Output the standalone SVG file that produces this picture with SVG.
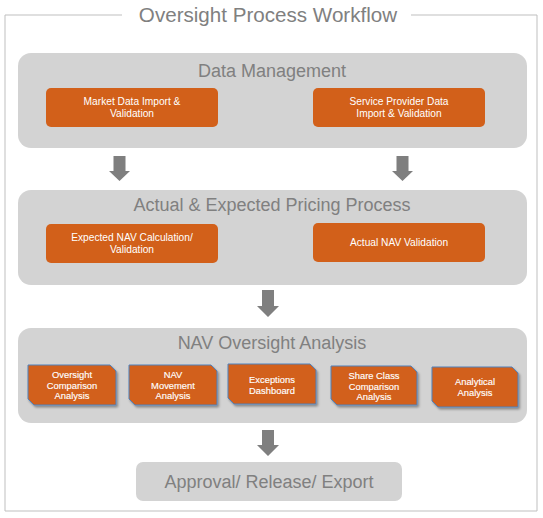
<svg xmlns="http://www.w3.org/2000/svg" width="543" height="518" viewBox="0 0 543 518">
<style>
.panel{fill:#d3d3d3}
.ptitle{font-family:"Liberation Sans",Arial,sans-serif;font-size:18px;fill:#808080;text-anchor:middle}
.obox{fill:#d2601a}
.otext{font-family:"Liberation Sans",Arial,sans-serif;font-size:10.2px;fill:#ffffff;text-anchor:middle}
.snip{fill:#d2601a;stroke:#4f81bd;stroke-width:1;filter:url(#sh)}
.stext{font-family:"Liberation Sans",Arial,sans-serif;font-size:9.4px;fill:#ffffff;stroke:#ffffff;stroke-width:0.15;text-anchor:middle}
.arrow{fill:#7f7f7f}
</style>
<defs>
<filter id="sh" x="-10%" y="-10%" width="130%" height="140%">
<feDropShadow dx="1.5" dy="2" stdDeviation="1.2" flood-color="#000" flood-opacity="0.35"/>
</filter>
</defs>
<rect width="543" height="518" fill="#ffffff"/>
<g id="frame">
<path d="M122 15 H5 V511 H537 V15 H411" fill="none" stroke="#bfbfbf" stroke-width="1"/>
<text x="268" y="22" font-family="Liberation Sans,Arial,sans-serif" font-size="20.6" fill="#808080" text-anchor="middle">Oversight Process Workflow</text>
</g>
<g id="data-management">
<rect class="panel" x="18" y="53" width="509" height="95" rx="13"/>
<text class="ptitle" x="272" y="77">Data Management</text>
</g>
<g id="market-data">
<rect class="obox" x="46" y="88" width="172" height="39" rx="5"/>
<text class="otext" x="132" y="105">Market Data Import &amp;</text>
<text class="otext" x="132" y="117">Validation</text>
</g>
<g id="service-provider">
<rect class="obox" x="313" y="88" width="172" height="39" rx="5"/>
<text class="otext" x="399" y="105">Service Provider Data</text>
<text class="otext" x="399" y="117">Import &amp; Validation</text>
</g>
<g id="pricing-process">
<rect class="panel" x="18" y="190" width="509" height="95" rx="13"/>
<text class="ptitle" x="272" y="211">Actual &amp; Expected Pricing Process</text>
</g>
<g id="expected-nav">
<rect class="obox" x="46" y="224" width="172" height="39" rx="5"/>
<text class="otext" x="132" y="241">Expected NAV Calculation/</text>
<text class="otext" x="132" y="253">Validation</text>
</g>
<g id="actual-nav">
<rect class="obox" x="313" y="223" width="172" height="39" rx="5"/>
<text class="otext" x="399" y="246">Actual NAV Validation</text>
</g>
<g id="nav-oversight">
<rect class="panel" x="18" y="328" width="509" height="95" rx="13"/>
<text class="ptitle" x="272" y="349">NAV Oversight Analysis</text>
</g>
<g id="oversight-comparison">
<path class="snip" d="M28 365 H110 L116 371 V405 H34 L28 399 Z"/>
<text class="stext" x="72" y="378">Oversight</text>
<text class="stext" x="72" y="388.5">Comparison</text>
<text class="stext" x="72" y="399">Analysis</text>
</g>
<g id="nav-movement">
<path class="snip" d="M129 365 H211 L217 371 V405 H135 L129 399 Z"/>
<text class="stext" x="173" y="378">NAV</text>
<text class="stext" x="173" y="388.5">Movement</text>
<text class="stext" x="173" y="399">Analysis</text>
</g>
<g id="exceptions">
<path class="snip" d="M228 364 H310 L316 370 V404 H234 L228 398 Z"/>
<text class="stext" x="272" y="383">Exceptions</text>
<text class="stext" x="272" y="393.5">Dashboard</text>
</g>
<g id="share-class">
<path class="snip" d="M331 366 H411 L417 372 V405 H337 L331 399 Z"/>
<text class="stext" x="374" y="379">Share Class</text>
<text class="stext" x="374" y="389.5">Comparison</text>
<text class="stext" x="374" y="400">Analysis</text>
</g>
<g id="analytical">
<path class="snip" d="M432 367 H512 L518 373 V407 H438 L432 401 Z"/>
<text class="stext" x="475" y="385">Analytical</text>
<text class="stext" x="475" y="395.5">Analysis</text>
</g>
<g id="approval">
<rect class="panel" x="136" y="462" width="266" height="39" rx="7"/>
<text class="ptitle" x="269" y="488">Approval/ Release/ Export</text>
</g>
<g id="connectors">
<path class="arrow" d="M113.5 156 H125.5 V171 H130 L119.5 181 L109 171 H113.5 Z"/>
<path class="arrow" d="M396.5 156 H408.5 V171 H413 L402.5 181 L392 171 H396.5 Z"/>
<path class="arrow" d="M262 290 H274 V306 H279 L268 317 L257 306 H262 Z"/>
<path class="arrow" d="M262 430 H274 V445 H279 L268 456 L257 445 H262 Z"/>
</g>
</svg>
